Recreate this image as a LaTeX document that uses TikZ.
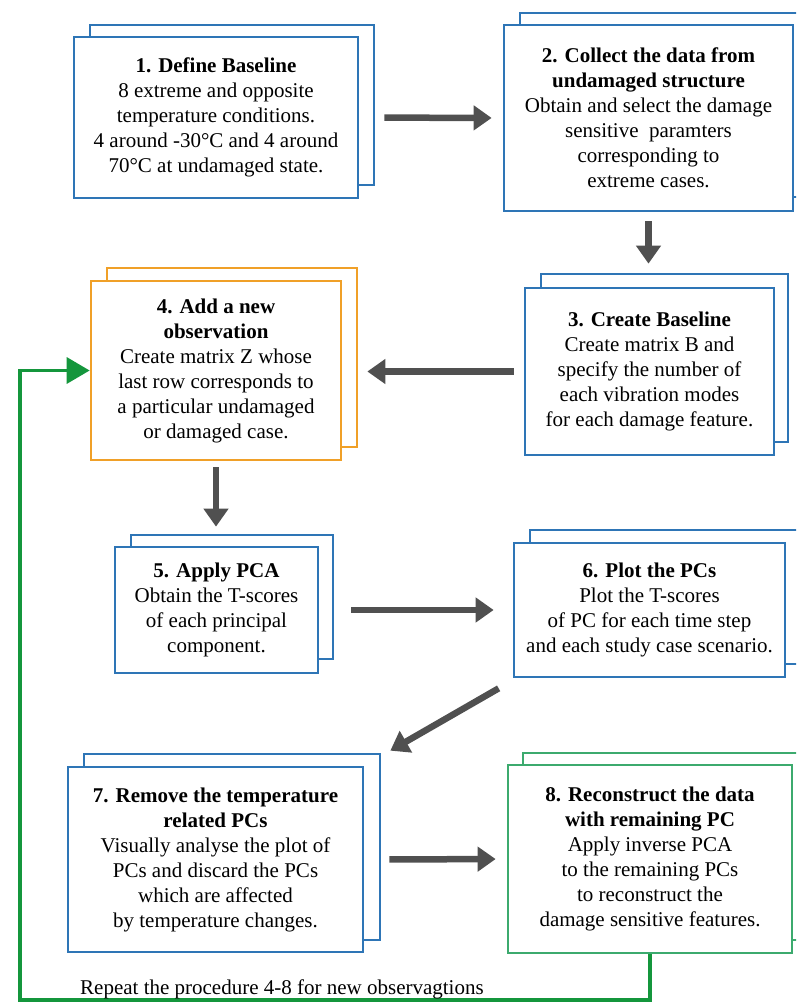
\documentclass[tikz,border=0pt]{standalone}
\usepackage{fontspec}
\setmainfont{Liberation Serif}
\usetikzlibrary{arrows.meta}
\definecolor{bblue}{RGB}{46,117,182}
\definecolor{borange}{RGB}{240,160,40}
\definecolor{bgreen}{RGB}{60,170,110}
\definecolor{loopgreen}{RGB}{20,150,60}
\definecolor{arrowgray}{RGB}{80,80,80}
\begin{document}
\begin{tikzpicture}[x=1pt,y=-1pt,
  frontbox/.style={draw=#1, line width=2.7pt, fill=white, rectangle, inner sep=0pt, align=center, font=\fontsize{21}{25}\selectfont},
  backbox/.style={draw=#1, line width=2.7pt, fill=white, rectangle, inner sep=0pt},
  flow/.style={draw=arrowgray, line width=6.5pt, -{Triangle[length=18pt,width=24pt]}},
  greenloop/.style={draw=loopgreen, line width=3.5pt, -{Triangle[length=23pt,width=26pt]}},
]
\clip (0,0) rectangle (796,1005);
\fill[white] (0,0) rectangle (796,1005);

% Box 1
\node[backbox=bblue, minimum width=284pt, minimum height=160pt] (b1back) at (232,105) {};
\node[frontbox=bblue, minimum width=284pt, minimum height=161pt] (b1) at (216,117.5)
 {\textbf{1. Define Baseline}\\8 extreme and opposite\\temperature conditions.\\4 around -30°C and 4 around\\70°C at undamaged state.};

% Box 2
\node[backbox=bblue, minimum width=290pt, minimum height=184pt] (b2back) at (665,105) {};
\node[frontbox=bblue, minimum width=289pt, minimum height=186pt] (b2) at (648.5,118)
 {\textbf{2. Collect the data from}\\\textbf{undamaged structure}\\Obtain and select the damage\\sensitive\ \ paramters\\corresponding to\\extreme cases.};

% Box 3
\node[backbox=bblue, minimum width=247pt, minimum height=168pt] (b3back) at (664.5,358) {};
\node[frontbox=bblue, minimum width=249pt, minimum height=167pt] (b3) at (649.5,371.5)
 {\textbf{3. Create Baseline}\\Create matrix B and\\specify the number of\\each vibration modes\\for each damage feature.};

% Box 4
\node[backbox=borange, minimum width=250pt, minimum height=179pt] (b4back) at (232,357.5) {};
\node[frontbox=borange, minimum width=250pt, minimum height=179pt] (b4) at (216,370.5)
 {\textbf{4. Add a new}\\\textbf{observation}\\Create matrix Z whose\\last row corresponds to\\a particular undamaged\\or damaged case.};

% Box 5
\node[backbox=bblue, minimum width=202pt, minimum height=124pt] (b5back) at (232,597) {};
\node[frontbox=bblue, minimum width=203pt, minimum height=126pt] (b5) at (216.5,610)
 {\textbf{5. Apply PCA}\\Obtain the T-scores\\of each principal\\component.};

% Box 6
\node[backbox=bblue, minimum width=275pt, minimum height=134pt] (b6back) at (667.5,597) {};
\node[frontbox=bblue, minimum width=271pt, minimum height=134pt] (b6) at (649.5,610)
 {\textbf{6. Plot the PCs}\\Plot the T-scores\\of PC for each time step\\and each study case scenario.};

% Box 7
\node[backbox=bblue, minimum width=296pt, minimum height=186pt] (b7back) at (232,847) {};
\node[frontbox=bblue, minimum width=295pt, minimum height=185pt] (b7) at (215.5,859.5)
 {\textbf{7. Remove the temperature}\\\textbf{related PCs}\\Visually analyse the plot of\\PCs and discard the PCs\\which are affected\\by temperature changes.};

% Box 8
\node[backbox=bgreen, minimum width=282pt, minimum height=187pt] (b8back) at (664,846.5) {};
\node[frontbox=bgreen, minimum width=284pt, minimum height=188pt] (b8) at (650,859)
 {\textbf{8. Reconstruct the data}\\\textbf{with remaining PC}\\Apply inverse PCA\\to the remaining PCs\\to reconstruct the\\damage sensitive features.};

% Flow arrows
\draw[flow, shorten <=25pt, shorten >=11pt] (b1.east) -- (b2.west);
\draw[flow, shorten <=9pt, shorten >=9pt] (b2.south) -- (b2.south |- b3back.north);
\draw[flow, shorten <=10pt, shorten >=9pt] (b3.west) -- (b4back.east |- b3.west);
\draw[flow, shorten <=6pt, shorten >=7pt] (b4.south) -- (b4.south |- b5back.north);
\draw[flow, shorten <=17pt, shorten >=19pt] (b5back.east |- b5.east) -- (b6.west);
\draw[flow] ([shift={(-14,10)}]b6.south west) -- ([shift={(9,-2)}]b7back.north east);
\draw[flow, shorten <=8pt, shorten >=11pt] (b7back.east |- b7.east) -- (b8.west);

% Loop back
\coordinate (ll) at (20,1000);
\draw[greenloop] (b8.south) |- (ll) |- (b4.west);

\node[anchor=base west, font=\fontsize{21}{25}\selectfont, inner sep=0pt] (rep) at (80,994)
 {Repeat the procedure 4-8 for new observagtions};
\end{tikzpicture}
\end{document}
